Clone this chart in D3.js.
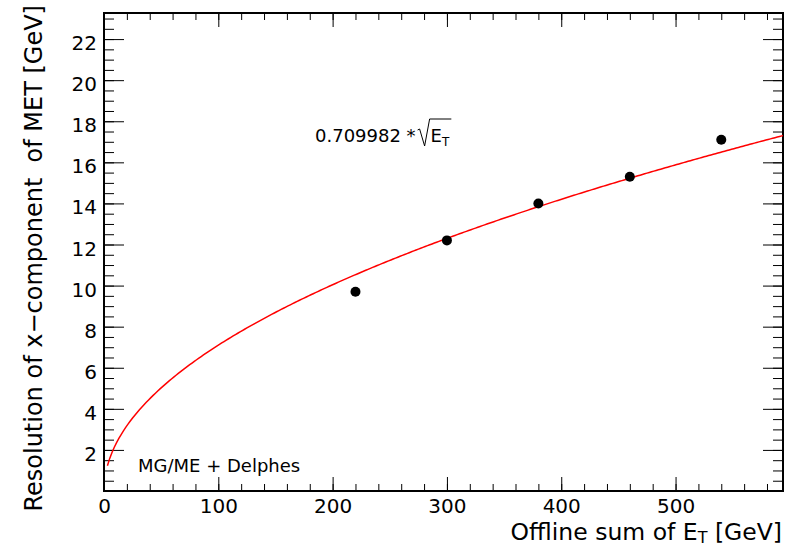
<!DOCTYPE html>
<html>
<head>
<meta charset="utf-8">
<script src="https://cdn.jsdelivr.net/npm/d3@7"></script>
<style>
body { margin: 0; background: #fff; }
text { font-family: "DejaVu Sans", sans-serif; fill: #000; }
</style>
</head>
<body>
<svg id="chart"></svg>
<script>
var width = 799;
var height = 547;

// measured points
var sumEt = [220, 300, 380, 460, 540];
var resolution = [9.7, 12.2, 14.0, 15.3, 17.1];

// fit result shown on the plot: p0 * sqrt(E_T)
var fitCoef = 0.709982;
var fitStart = 3;

var xMajor = [0, 100, 200, 300, 400, 500];
var yMajor = [2, 4, 6, 8, 10, 12, 14, 16, 18, 20, 22];

var margin = { left: 104, right: 16, top: 13, bottom: 56 };

var svg = d3.select("#chart")
    .attr("width", width)
    .attr("height", height);

var x = d3.scaleLinear()
    .domain([0, 594])
    .range([margin.left, width - margin.right]);

var y = d3.scaleLinear()
    .domain([0, 23.27])
    .range([height - margin.bottom, margin.top]);

var xMinor = d3.range(0, 594, 20);
var yMinor = d3.range(0, 23.27, 0.5);

var x0 = x.range()[0], x1 = x.range()[1];
var y0 = y.range()[0], y1 = y.range()[1];

function styleAxis(g) {
    g.select(".domain").remove();
    g.selectAll("line").attr("stroke", "#000").attr("stroke-width", 1);
}

// bottom axis
svg.append("g")
    .attr("transform", "translate(0," + y0 + ")")
    .call(d3.axisBottom(x).tickValues(xMinor).tickSize(-7).tickFormat(""))
    .call(styleAxis);

var bottom = svg.append("g")
    .attr("transform", "translate(0," + y0 + ")")
    .call(d3.axisBottom(x).tickValues(xMajor).tickSize(-14))
    .call(styleAxis);
bottom.selectAll("text")
    .attr("y", 22)
    .attr("dy", null)
    .attr("font-size", "20px")
    .style("font-family", "DejaVu Sans");

// top axis
svg.append("g")
    .attr("transform", "translate(0," + y1 + ")")
    .call(d3.axisTop(x).tickValues(xMinor).tickSize(-7).tickFormat(""))
    .call(styleAxis);
svg.append("g")
    .attr("transform", "translate(0," + y1 + ")")
    .call(d3.axisTop(x).tickValues(xMajor).tickSize(-14).tickFormat(""))
    .call(styleAxis);

// left axis
svg.append("g")
    .attr("transform", "translate(" + x0 + ",0)")
    .call(d3.axisLeft(y).tickValues(yMinor).tickSize(-10).tickFormat(""))
    .call(styleAxis);
var left = svg.append("g")
    .attr("transform", "translate(" + x0 + ",0)")
    .call(d3.axisLeft(y).tickValues(yMajor).tickSize(-20))
    .call(styleAxis);
left.selectAll("text")
    .attr("x", -7)
    .attr("dy", null)
    .attr("y", 10.5)
    .attr("font-size", "20px")
    .style("font-family", "DejaVu Sans");

// right axis
svg.append("g")
    .attr("transform", "translate(" + x1 + ",0)")
    .call(d3.axisRight(y).tickValues(yMinor).tickSize(-10).tickFormat(""))
    .call(styleAxis);
svg.append("g")
    .attr("transform", "translate(" + x1 + ",0)")
    .call(d3.axisRight(y).tickValues(yMajor).tickSize(-20).tickFormat(""))
    .call(styleAxis);

// frame
svg.append("rect")
    .attr("x", x0)
    .attr("y", y1)
    .attr("width", x1 - x0)
    .attr("height", y0 - y1)
    .attr("fill", "none")
    .attr("stroke", "#000")
    .attr("stroke-width", 2);

// fit curve
var fitX = d3.range(fitStart, x.domain()[1], 2).concat([x.domain()[1]]);
var line = d3.line()
    .x(function (d) { return x(d); })
    .y(function (d) { return y(fitCoef * Math.sqrt(d)); });

svg.append("path")
    .datum(fitX)
    .attr("d", line)
    .attr("fill", "none")
    .attr("stroke", "#ff0000")
    .attr("stroke-width", 1.5);

// points
var points = [];
for (var i = 0; i < sumEt.length; i++) {
    points.push({ et: sumEt[i], res: resolution[i] });
}
svg.selectAll("circle.pt")
    .data(points)
    .enter()
    .append("circle")
    .attr("class", "pt")
    .attr("cx", function (d) { return x(d.et); })
    .attr("cy", function (d) { return y(d.res); })
    .attr("r", 5)
    .attr("fill", "#000");

// axis titles
var xt = svg.append("text")
    .attr("x", 782)
    .attr("y", 540)
    .attr("text-anchor", "end")
    .attr("font-size", "23.5px");
xt.append("tspan").text("Offline sum of E");
xt.append("tspan").attr("font-size", "16px").attr("dy", 3).text("T");
xt.append("tspan").attr("dy", -3).text(" [GeV]");

svg.append("text")
    .attr("transform", "translate(42,5) rotate(-90)")
    .attr("text-anchor", "end")
    .attr("font-size", "24px")
    .style("white-space", "pre")
    .text("Resolution of x\u2212component  of MET [GeV]");

// fit label
var fx = 315, fy = 142;
var ft = svg.append("text")
    .attr("x", fx)
    .attr("y", fy)
    .attr("font-size", "18px")
    .text("0.709982 *");
var sx = fx + ft.node().getComputedTextLength() + 2;

var et = svg.append("text")
    .attr("x", sx + 13)
    .attr("y", fy)
    .attr("font-size", "18px");
et.append("tspan").text("E");
et.append("tspan").attr("font-size", "12px").attr("dy", 4).text("T");
var ew = et.node().getComputedTextLength();

svg.append("path")
    .attr("d", "M" + sx + "," + (fy - 12) +
        " L" + (sx + 2) + "," + (fy - 13) +
        " L" + (sx + 7) + "," + (fy + 4) +
        " L" + (sx + 12) + "," + (fy - 23) +
        " L" + (sx + 15 + ew) + "," + (fy - 23))
    .attr("fill", "none")
    .attr("stroke", "#000")
    .attr("stroke-width", 1);

svg.append("text")
    .attr("x", 138)
    .attr("y", 472)
    .attr("font-size", "18px")
    .text("MG/ME + Delphes");
</script>
</body>
</html>
